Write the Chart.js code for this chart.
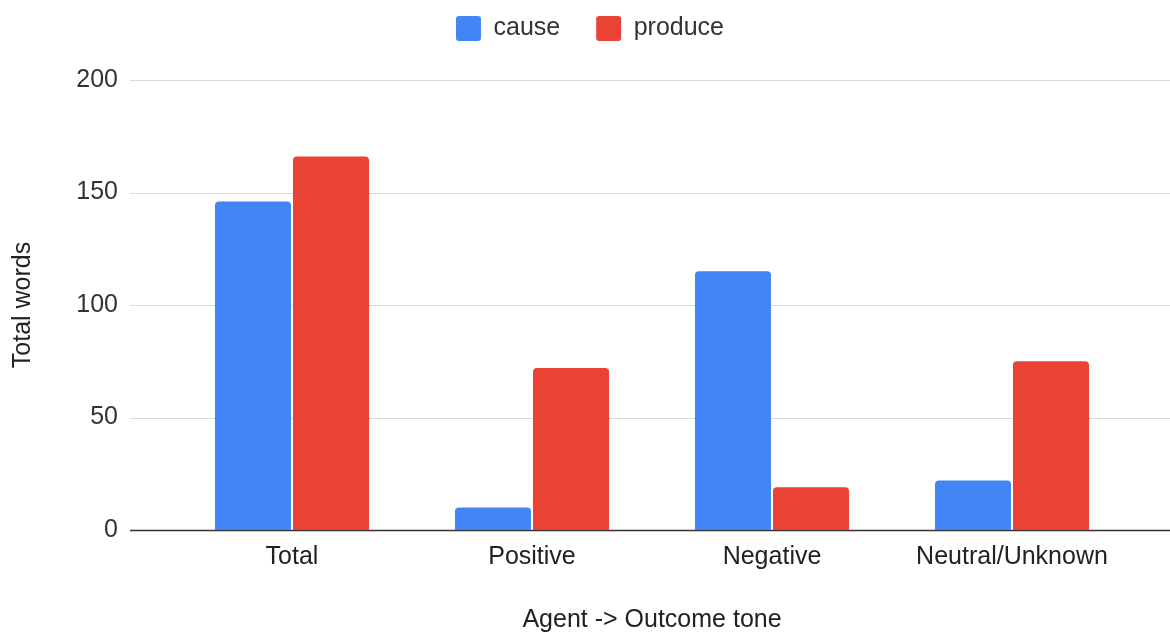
<!DOCTYPE html>
<html>
<head>
<meta charset="utf-8">
<script src="https://cdn.jsdelivr.net/npm/chart.js@4.4.0/dist/chart.umd.min.js"></script>
<style>
  html, body { margin: 0; padding: 0; background: #fff; }
  #wrap { width: 1170px; height: 635px; }
</style>
</head>
<body>
<div id="wrap"><canvas id="toneChart"></canvas></div>
<script>
// Chart data
const categories = ['Total', 'Positive', 'Negative', 'Neutral/Unknown'];
const causeValues = [146, 10, 115, 22];
const produceValues = [166, 72, 19, 75];
const yTicks = [0, 50, 100, 150, 200];

const FONT = "'Liberation Sans', Arial, sans-serif";

// Grid lines run past the chart area like the Google chart does
const wideGrid = {
    id: 'wideGrid',
    beforeDatasetsDraw(chart) {
        const ctx = chart.ctx;
        const y = chart.scales.y;
        ctx.save();
        yTicks.forEach(v => {
            const py = Math.round(y.getPixelForValue(v)) + 0.5;
            ctx.beginPath();
            ctx.moveTo(130, py);
            ctx.lineTo(1170, py);
            ctx.lineWidth = v === 0 ? 1.5 : 1;
            ctx.strokeStyle = v === 0 ? '#333333' : '#d9d9d9';
            ctx.stroke();
        });
        ctx.restore();
    }
};

// Give the legend more room below it and nudge it right
const legendSpace = {
    id: 'legendSpace',
    beforeInit(chart) {
        const fit = chart.legend.fit;
        chart.legend.fit = function () {
            fit.call(this);
            this.height = 100;
        };
    },
    afterLayout(chart) {
        chart.legend.left += 24;
        chart.legend.right += 24;
    }
};

const ctx = document.getElementById('toneChart').getContext('2d');
new Chart(ctx, {
    type: 'bar',
    data: {
        labels: categories,
        datasets: [{
            label: 'cause',
            data: causeValues,
            backgroundColor: '#4285F4',
            borderRadius: 4,
            categoryPercentage: 0.65,
            barPercentage: 0.975
        }, {
            label: 'produce',
            data: produceValues,
            backgroundColor: '#EA4335',
            borderRadius: 4,
            categoryPercentage: 0.65,
            barPercentage: 0.975
        }]
    },
    options: {
        responsive: true,
        maintainAspectRatio: false,
        animation: false,
        layout: { padding: { top: -20, right: 38, bottom: 0, left: 0 } },
        plugins: {
            tooltip: { enabled: false },
            legend: {
                position: 'top',
                labels: {
                    font: { family: FONT, size: 25 },
                    color: '#333',
                    boxWidth: 25,
                    boxHeight: 25,
                    useBorderRadius: true,
                    borderRadius: 3,
                    padding: 36
                }
            }
        },
        scales: {
            x: {
                grid: { display: false },
                border: { display: false },
                ticks: {
                    font: { family: FONT, size: 25 },
                    color: '#222',
                    padding: 4
                },
                title: {
                    display: true,
                    text: 'Agent -> Outcome tone',
                    font: { family: FONT, size: 25 },
                    color: '#222',
                    padding: { top: 29, bottom: 0 }
                }
            },
            y: {
                min: 0,
                max: 200,
                grid: { display: false, drawTicks: false },
                border: { display: false },
                afterFit(scale) { scale.width = 172; },
                ticks: {
                    stepSize: 50,
                    font: { family: FONT, size: 25 },
                    color: '#333',
                    padding: 54
                },
                title: {
                    display: true,
                    text: 'Total words',
                    font: { family: FONT, size: 25 },
                    color: '#222',
                    padding: { top: 8, bottom: 0 }
                }
            }
        }
    },
    plugins: [wideGrid, legendSpace]
});
</script>
</body>
</html>
